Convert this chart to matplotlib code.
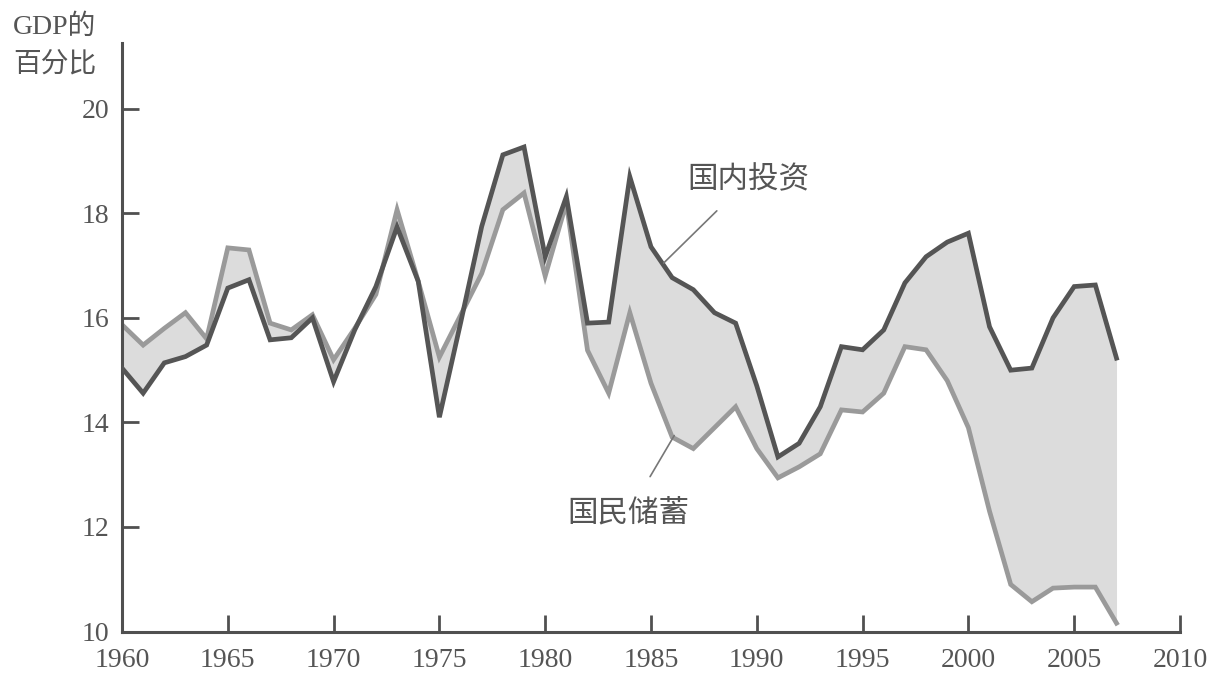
import matplotlib
matplotlib.use('Agg')  # no display
import matplotlib.pyplot as plt

# Data (percent of GDP)
years = list(range(1960, 2008))

investment = [15.04, 14.56, 15.14, 15.26, 15.48, 16.57, 16.73, 15.58, 15.62, 16.0,
              14.78, 15.77, 16.6, 17.74, 16.7, 14.1, 15.9, 17.75, 19.12, 19.27,
              17.17, 18.32, 15.9, 15.92, 18.7, 17.36, 16.77, 16.54, 16.1, 15.9,
              14.7, 13.34, 13.6, 14.3, 15.45, 15.39, 15.77, 16.67, 17.17, 17.45,
              17.62, 15.83, 15.0, 15.04, 16.0, 16.6, 16.63, 15.23]

saving = [15.87, 15.48, 15.8, 16.1, 15.6, 17.34, 17.3, 15.9, 15.77, 16.06,
          15.2, 15.8, 16.45, 18.07, 16.7, 15.25, 16.05, 16.85, 18.07, 18.39,
          16.8, 18.2, 15.38, 14.56, 16.1, 14.75, 13.72, 13.5, 13.9, 14.3,
          13.5, 12.94, 13.15, 13.4, 14.24, 14.2, 14.56, 15.45, 15.39, 14.8,
          13.9, 12.3, 10.9, 10.57, 10.83, 10.85, 10.85, 10.16]

x_ticks = [1960, 1965, 1970, 1975, 1980, 1985, 1990, 1995, 2000, 2005, 2010]
y_ticks = [10, 12, 14, 16, 18, 20]

label_invest = "国内投资"
label_saving = "国民储蓄"
y_title = "GDP的\n百分比"

# fonts: Times-like digits, CJK fallback for the Chinese text
fams = ['Liberation Serif', 'Noto Sans CJK SC', 'DejaVu Sans']
cjk = ['Noto Sans CJK SC', 'DejaVu Sans']
plt.rcParams['font.family'] = fams

text_color = '#555555'
axis_color = '#505050'

fig = plt.figure(figsize=(12.09, 6.80), dpi=100)
ax = fig.add_axes([0.1009, 0.0713, 0.8751, 0.8655])

# shaded gap between the two series
ax.fill_between(years, investment, saving, color='#dcdcdc', linewidth=0, zorder=1)
ax.plot(years, saving, color='#9a9a9a', linewidth=3.4, solid_joinstyle='miter', zorder=2)
ax.plot(years, investment, color='#555555', linewidth=3.4, solid_joinstyle='miter', zorder=3)

ax.set_xlim(1960, 2010)
ax.set_ylim(10, 21.26)

for side in ['top', 'right']:
    ax.spines[side].set_visible(False)
for side in ['left', 'bottom']:
    ax.spines[side].set_color(axis_color)
    ax.spines[side].set_linewidth(2.2)
ax.spines['bottom'].set_bounds(1960, 2010)

ax.set_xticks(x_ticks)
ax.set_yticks(y_ticks)
ax.tick_params(axis='both', direction='in', length=12, width=2, color=axis_color,
               labelsize=20, labelcolor=text_color)
ax.tick_params(axis='x', pad=12)
ax.tick_params(axis='y', pad=9)

# hide the tick marks at the origin (they would lie on the spines)
ax.xaxis.get_major_ticks()[0].tick1line.set_visible(False)
ax.yaxis.get_major_ticks()[0].tick1line.set_visible(False)

# series labels with leader lines
ax.annotate(label_invest, xy=(1985.6, 17.05), xytext=(1989.6, 18.64),
            ha='center', va='center', fontsize=22, color=text_color, family=cjk,
            arrowprops=dict(arrowstyle='-', color='#777777', lw=1.2,
                            shrinkA=13, shrinkB=0))
ax.annotate(label_saving, xy=(1986.1, 13.75), xytext=(1983.95, 12.27),
            ha='center', va='center', fontsize=22, color=text_color, family=cjk,
            arrowprops=dict(arrowstyle='-', color='#777777', lw=1.2,
                            shrinkA=15, shrinkB=0))

# axis title in the top-left corner
fig.text(13 / 1209, 1 - 14 / 680, y_title, ha='left', va='top', fontsize=20,
         color=text_color, linespacing=1.65, family=fams)

fig.savefig('out.png', dpi=100)
plt.close(fig)
